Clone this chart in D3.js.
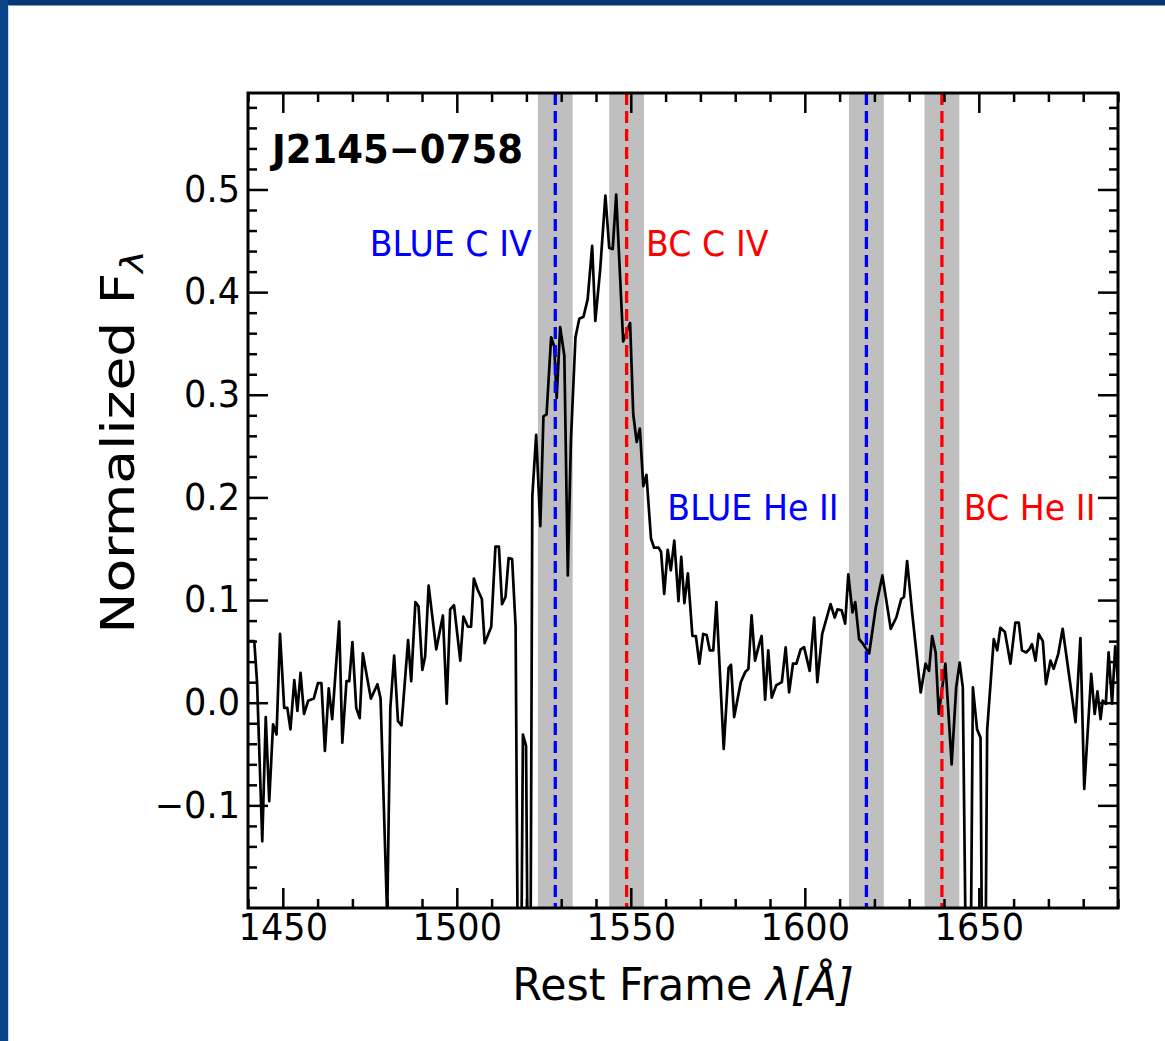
<!DOCTYPE html>
<html>
<head>
<meta charset="utf-8">
<style>
  body { margin: 0; background: #fff; }
  #chart-area svg { display: block; }
  text { font-family: "DejaVu Sans", sans-serif; }
</style>
</head>
<body>
<div id="chart-area"></div>

<script src="https://cdnjs.cloudflare.com/ajax/libs/d3/7.8.5/d3.min.js"></script>
<script>
    // spectrum (rest frame wavelength, normalized flux)
    const wavelength = [
        1440.3, 1441.8, 1442.6, 1444.1, 1445.1, 1446.1, 1447.2, 1448.2, 1449.2, 1450.4,
        1451.3, 1452.2, 1453.3, 1454.2, 1455.1, 1456.1, 1457.3, 1458.9, 1460.1, 1461.1,
        1462.1, 1463.2, 1464.2, 1466.2, 1467.1, 1468.3, 1469.1, 1470.0, 1471.1, 1472.1,
        1473.0, 1475.3, 1477.2, 1478.1, 1480.0, 1480.9, 1482.0, 1483.1, 1484.1, 1486.0,
        1486.9, 1488.1, 1489.0, 1490.1, 1490.9, 1491.9, 1494.1, 1496.0, 1497.1, 1498.1,
        1499.2, 1501.0, 1501.9, 1503.2, 1504.1, 1504.9, 1506.0, 1507.2, 1508.0, 1509.9,
        1511.1, 1512.1, 1513.0, 1514.0, 1514.9, 1515.9, 1516.9, 1518.0, 1519.0, 1519.9,
        1520.9, 1521.7, 1522.8, 1524.0, 1524.9, 1525.8, 1527.1, 1528.0, 1528.7, 1529.7,
        1530.9, 1531.9, 1532.8, 1534.1, 1535.2, 1536.4, 1537.6, 1538.9, 1539.8, 1541.2,
        1542.7, 1543.8, 1544.8, 1545.8, 1547.8, 1548.8, 1549.8, 1550.7, 1551.7, 1552.6,
        1553.6, 1554.5, 1555.8, 1556.7, 1558.0, 1558.7, 1559.6, 1560.6, 1561.5, 1562.5,
        1563.7, 1564.5, 1565.4, 1566.4, 1567.7, 1568.7, 1569.7, 1570.8, 1571.8, 1572.7,
        1573.7, 1574.6, 1576.7, 1578.1, 1578.8, 1579.7, 1581.6, 1582.9, 1583.8, 1584.7,
        1585.7, 1586.9, 1587.6, 1588.6, 1589.5, 1590.5, 1591.8, 1593.4, 1594.5, 1595.5,
        1596.6, 1597.6, 1598.8, 1599.8, 1601.4, 1602.7, 1603.6, 1605.0, 1607.4, 1608.6,
        1609.4, 1610.6, 1611.6, 1612.5, 1613.7, 1614.5, 1615.6, 1616.8, 1618.5, 1620.4,
        1622.3, 1624.7, 1626.3, 1627.7, 1628.5, 1629.4, 1630.9, 1633.3, 1634.7, 1635.7,
        1636.6, 1637.6, 1638.5, 1640.4, 1642.2, 1643.5, 1644.5, 1645.4, 1647.1, 1648.3,
        1649.5, 1650.5, 1651.4, 1652.4, 1654.3, 1655.3, 1656.2, 1657.5, 1659.1, 1660.5,
        1661.5, 1662.4, 1663.6, 1664.5, 1665.3, 1666.3, 1667.2, 1668.4, 1669.3, 1670.6,
        1671.5, 1672.8, 1674.1, 1677.8, 1679.2, 1680.3, 1682.3, 1683.3, 1684.1, 1685.0,
        1685.6, 1686.5, 1687.3, 1688.3, 1689.2, 1690.0
    ];
    const flux = [
        0.060, 0.060, 0.020, -0.135, -0.014, -0.096, -0.021, -0.031, 0.067, -0.005,
        -0.005, -0.026, 0.022, -0.008, 0.029, -0.011, 0.002, 0.004, 0.019, 0.019,
        -0.047, 0.014, -0.016, 0.079, -0.039, 0.021, 0.021, 0.059, -0.005, -0.015,
        0.048, 0.004, 0.018, 0.004, -0.21, -0.005, 0.046, -0.018, -0.022, 0.061,
        0.021, 0.098, 0.094, 0.032, 0.045, 0.114, 0.052, 0.085, -0.001, 0.091,
        0.095, 0.041, 0.084, 0.074, 0.074, 0.121, 0.110, 0.101, 0.058, 0.074,
        0.152, 0.152, 0.096, 0.103, 0.141, 0.140, 0.074, -0.50, -0.031, -0.042,
        -0.50, 0.201, 0.261, 0.172, 0.279, 0.281, 0.356, 0.347, 0.297, 0.366,
        0.338, 0.124, 0.256, 0.356, 0.374, 0.376, 0.393, 0.445, 0.372, 0.422,
        0.494, 0.443, 0.442, 0.495, 0.352, 0.361, 0.370, 0.281, 0.254, 0.267,
        0.211, 0.222, 0.160, 0.151, 0.151, 0.147, 0.106, 0.149, 0.129, 0.158,
        0.099, 0.142, 0.097, 0.126, 0.065, 0.065, 0.038, 0.067, 0.066, 0.051,
        0.051, 0.098, -0.045, 0.034, 0.037, -0.014, 0.020, 0.030, 0.033, 0.085,
        0.041, 0.057, 0.065, 0.003, 0.051, 0.005, 0.017, 0.020, 0.054, 0.010,
        0.038, 0.038, 0.052, 0.054, 0.031, 0.083, 0.020, 0.067, 0.096, 0.083,
        0.091, 0.090, 0.077, 0.125, 0.088, 0.098, 0.062, 0.057, 0.048, 0.093,
        0.124, 0.072, 0.083, 0.101, 0.103, 0.138, 0.086, 0.010, 0.038, 0.031,
        0.065, 0.049, -0.011, 0.038, -0.060, 0.015, 0.039, 0.015, -0.50, 0.015,
        -0.026, -0.034, -0.50, -0.027, 0.062, 0.051, 0.073, 0.069, 0.038, 0.078,
        0.078, 0.051, 0.049, 0.052, 0.057, 0.041, 0.067, 0.060, 0.018, 0.041,
        0.033, 0.047, 0.072, -0.019, 0.063, -0.084, 0.028, -0.011, 0.011, -0.016,
        0.002, -0.001, 0.049, -0.001, 0.055, 0.020
    ];

    // line centres and their labels
    const lineCenters = [1528.3, 1548.8, 1617.7, 1639.4];
    const lineNames = ["BLUE C IV", "BC C IV", "BLUE He II", "BC He II"];
    const lineComponent = ["blue", "bc", "blue", "bc"];
    const bandHalfWidth = 5;

    const xTicks = [1450, 1500, 1550, 1600, 1650];
    const yTicks = [-0.1, 0.0, 0.1, 0.2, 0.3, 0.4, 0.5];
    const objectName = "J2145\u22120758";

    // layout
    const svgW = 1165, svgH = 1041;
    const margin = {left: 248, top: 93};
    const width = 870, height = 815;
    const squeeze = 0.95;   // figure text is a bit narrow
    const lineColor = {blue: "#0000ff", bc: "#ff0000"};
    // where each label sits, in data units (left edge, baseline)
    const labelPos = [[1475.0, 0.435], [1554.4, 0.435], [1560.5, 0.178], [1645.7, 0.178]];

    const svg = d3.select("#chart-area")
        .append("svg")
            .attr("width", svgW)
            .attr("height", svgH);

    // dark blue slide frame
    svg.append("rect").attr("x", 0).attr("y", 0).attr("width", svgW).attr("height", 5.5).attr("fill", "#053777");
    svg.append("rect").attr("x", 0).attr("y", 0).attr("width", 8).attr("height", svgH).attr("fill", "#0a4489");
    svg.append("rect").attr("x", 8).attr("y", 5.5).attr("width", 1).attr("height", svgH).attr("fill", "#c8dbf2");

    const g = svg.append("g")
        .attr("transform", `translate(${margin.left}, ${margin.top})`);

    const x = d3.scaleLinear().domain([1440, 1690]).range([0, width]);
    const y = d3.scaleLinear().domain([-0.2, 0.594]).range([height, 0]);

    g.append("clipPath").attr("id", "plot-clip")
        .append("rect").attr("width", width).attr("height", height);

    // shaded windows
    g.selectAll("rect.band")
        .data(lineCenters)
        .enter().append("rect")
            .attr("class", "band")
            .attr("x", d => x(d - bandHalfWidth))
            .attr("width", d => x(d + bandHalfWidth) - x(d - bandHalfWidth))
            .attr("y", 0)
            .attr("height", height)
            .attr("fill", "#bfbfbf");

    // spectrum
    const spec = wavelength.map((w, i) => ({w: w, f: flux[i]}));
    const line = d3.line().x(d => x(d.w)).y(d => y(d.f));
    g.append("path")
        .datum(spec)
        .attr("clip-path", "url(#plot-clip)")
        .attr("d", line)
        .attr("fill", "none")
        .attr("stroke", "#000")
        .attr("stroke-width", 2.7)
        .attr("stroke-linejoin", "round");

    // dashed line centres
    g.selectAll("line.centre")
        .data(lineCenters)
        .enter().append("line")
            .attr("class", "centre")
            .attr("x1", d => x(d)).attr("x2", d => x(d))
            .attr("y1", 0).attr("y2", height)
            .attr("stroke", (d, i) => lineColor[lineComponent[i]])
            .attr("stroke-width", 3.3)
            .attr("stroke-dasharray", "12,6");

    g.selectAll("text.linename")
        .data(lineNames)
        .enter().append("text")
            .attr("class", "linename")
            .attr("transform", (d, i) => `translate(${x(labelPos[i][0])}, ${y(labelPos[i][1])}) scale(${squeeze},1)`)
            .attr("fill", (d, i) => lineColor[lineComponent[i]])
            .style("font-size", "35px")
            .text(d => d);

    // ticks, pointing inward on all four sides
    const xMinor = d3.range(1440, 1691, 10).filter(v => v % 50 !== 0);
    const yMinor = d3.range(-10, 30).map(k => k * 0.02).filter(v => Math.abs(Math.round(v * 50)) % 5 !== 0);

    function styleTicks(sel) {
        sel.select(".domain").remove();
        sel.selectAll(".tick line").attr("stroke", "#000").attr("stroke-width", 2.5);
    }

    g.append("g").attr("transform", `translate(0, ${height})`)
        .call(d3.axisBottom(x).tickValues(xTicks).tickSizeInner(-20).tickSizeOuter(0).tickPadding(6).tickFormat(d3.format("d")))
        .call(styleTicks)
        .call(a => a.selectAll(".tick text")
            .attr("fill", "#000")
            .style("font-size", "37px")
            .style("font-family", "DejaVu Sans")
            .attr("transform", `scale(${squeeze},1)`));
    g.append("g").attr("transform", `translate(0, ${height})`)
        .call(d3.axisBottom(x).tickValues(xMinor).tickSizeInner(-9).tickSizeOuter(0).tickFormat(""))
        .call(styleTicks);
    g.append("g")
        .call(d3.axisTop(x).tickValues(xTicks).tickSizeInner(-20).tickSizeOuter(0).tickFormat(""))
        .call(styleTicks);
    g.append("g")
        .call(d3.axisTop(x).tickValues(xMinor).tickSizeInner(-9).tickSizeOuter(0).tickFormat(""))
        .call(styleTicks);

    g.append("g")
        .call(d3.axisLeft(y).tickValues(yTicks).tickSizeInner(-20).tickSizeOuter(0).tickPadding(8).tickFormat(d3.format(".1f")))
        .call(styleTicks)
        .call(a => a.selectAll(".tick text")
            .attr("fill", "#000")
            .attr("x", 0)
            .style("font-size", "37px")
            .style("font-family", "DejaVu Sans")
            .attr("transform", `translate(-8,0) scale(${squeeze},1)`));
    g.append("g")
        .call(d3.axisLeft(y).tickValues(yMinor).tickSizeInner(-9).tickSizeOuter(0).tickFormat(""))
        .call(styleTicks);
    g.append("g").attr("transform", `translate(${width}, 0)`)
        .call(d3.axisRight(y).tickValues(yTicks).tickSizeInner(-20).tickSizeOuter(0).tickFormat(""))
        .call(styleTicks);
    g.append("g").attr("transform", `translate(${width}, 0)`)
        .call(d3.axisRight(y).tickValues(yMinor).tickSizeInner(-9).tickSizeOuter(0).tickFormat(""))
        .call(styleTicks);

    // frame
    g.append("rect")
        .attr("width", width).attr("height", height)
        .attr("fill", "none").attr("stroke", "#000").attr("stroke-width", 3);

    // object name
    g.append("text")
        .attr("transform", `translate(24, 70) scale(${squeeze},1)`)
        .style("font-size", "39px")
        .style("font-weight", "bold")
        .text(objectName);

    // axis labels
    const xl = svg.append("text")
        .attr("transform", `translate(${margin.left + width / 2}, 1000) scale(${squeeze},1)`)
        .attr("text-anchor", "middle")
        .style("font-size", "45px");
    xl.append("tspan").text("Rest Frame ");
    xl.append("tspan").style("font-style", "italic").text("\u03bb[\u00c5]");

    const yl = svg.append("text")
        .attr("transform", `translate(134, 442) scale(0.84,1) rotate(-90)`)
        .attr("text-anchor", "middle")
        .style("font-size", "55px");
    yl.append("tspan").text("Normalized F");
    yl.append("tspan").style("font-size", "38px").style("font-style", "italic").attr("dy", 11).text("\u03bb");
</script>
</body>
</html>
